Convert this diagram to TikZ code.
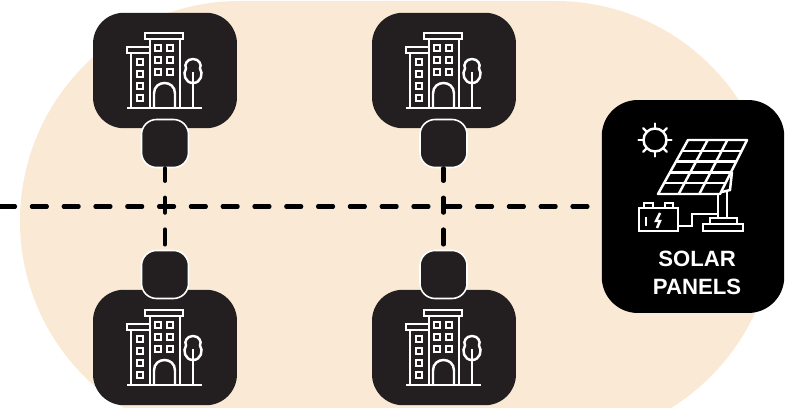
\documentclass[tikz,border=0pt]{standalone}
\usepackage{fontspec}
\setmainfont{Liberation Sans}
\definecolor{cream}{HTML}{FAE9D4}
\definecolor{boxdark}{HTML}{231F20}
\tikzset{
  house/.style={rectangle,fill=boxdark,rounded corners=0.62cm,minimum width=2.88cm,minimum height=2.31cm,inner sep=0pt},
  port/.style={rectangle,draw=white,line width=0.9pt,fill=boxdark,rounded corners=0.3cm,minimum width=0.94cm,minimum height=0.96cm,inner sep=0pt},
  panelbox/.style={rectangle,fill=black,rounded corners=0.72cm,minimum width=3.65cm,minimum height=4.26cm,inner sep=0pt},
  feeder/.style={line width=2.3pt,line cap=round,dash pattern=on 8.6pt off 9.5pt},
  icon/.style={draw=white,line width=1.4pt},
  building/.pic={
    \draw[icon] (-38,37.5) -- (37,37.5);
    \draw[icon] (-20,-37.5) rectangle (18,-31.5);
    \draw[icon] (-15,37.5) -- (-15,-31.5) (15,-31.5) -- (15,37.5);
    \draw[icon] (-38,-23.5) rectangle (-15,-17.5);
    \draw[icon] (-34,-17.5) -- (-34,37.5);
    \foreach \wy in {-8.5,3.5,15.5,27.5}
      \draw[icon] (-28,\wy-3) rectangle (-22,\wy+3);
    \foreach \wx in {-7,5}
      \foreach \wy in {-22.5,-10.5,1.5}
        \draw[icon] (\wx-3,\wy-3) rectangle (\wx+3,\wy+3);
    \draw[icon] (-11,37.5) -- (-11,23) .. controls (-11,9) and (10,9) .. (10,23) -- (10,37.5);
    \draw[icon] (28,-11.5) .. controls (34,-11.5) and (37,-6) .. (35,-2) .. controls (38.5,3) and (36,12.5) .. (28,12.5) .. controls (20,12.5) and (17.5,3) .. (21,-2) .. controls (19,-6) and (22,-11.5) .. (28,-11.5);
    \draw[icon] (28,2) -- (28,37.5);
  }
}

\begin{document}
\begin{tikzpicture}[x={(0.02cm,0cm)}, y={(0cm,-0.02cm)}]
  \useasboundingbox (0,0) rectangle (785,408);
  % Backdrop
  \begin{scope}
    \clip (0,0) rectangle (785,408);
    \fill[cream,rounded corners=4.4cm] (20,1) rectangle (775,441);
  \end{scope}

  % Nodes
  \node[house] (HouseA) at (165,70.5) {};
  \node[house] (HouseB) at (444,70.5) {};
  \node[house] (HouseC) at (165,347.5) {};
  \node[house] (HouseD) at (444,347.5) {};
  \node[port] (PortA) at (165,143.5) {};
  \node[port] (PortB) at (443.5,143.5) {};
  \node[port] (PortC) at (165,274.5) {};
  \node[port] (PortD) at (443.5,274.5) {};
  \node[panelbox] (Solar) at (693,206.5) {};
  \node[text=white,font=\fontsize{12.6}{15.9}\selectfont\bfseries,align=center,inner sep=0pt] (SolarLabel) at (697,272.5) {SOLAR\\PANELS};
  \coordinate (Feed) at (0,206.5);

  % Edges
  \draw[feeder,shorten >=4pt] (Feed) -- (Solar.west);
  \draw[feeder,dash phase=1.4pt] (PortA.south) -- (PortC.north);
  \draw[feeder,dash phase=1.4pt] (PortB.south) -- (PortD.north);

  % Icons
  \foreach \n in {HouseA,HouseB,HouseC,HouseD}
    \pic at (\n) {building};

  % Sun
  \draw[icon] (655,140) circle [radius=11.5];
  \foreach \a in {0,45,...,315}
    \draw[icon,line cap=round] ({655+11.5*cos(\a)},{140+11.5*sin(\a)}) -- ({655+16.5*cos(\a)},{140+16.5*sin(\a)});

  % Panel
  \draw[icon,line join=round] (688,140) -- (747,140) -- (720,194) -- (658,194) -- cycle;
  \foreach \t in {1,...,4}
    \draw[icon] ({688-30*\t/5},{140+54*\t/5}) -- ({747-27*\t/5},{140+54*\t/5});
  \foreach \t in {1,2}
    \draw[icon] ({688+59*\t/3},140) -- ({658+62*\t/3},194);
  \draw[icon] (732,172) -- (730,190) -- (722,192);
  \draw[icon] (718,194) -- (718,218) (727,192) -- (727,218);
  \draw[icon] (710,224) -- (710,218) -- (737,218) -- (737,224);
  \draw[icon] (703,224) rectangle (743,231);

  % Battery
  \draw[icon] (639,208) rectangle (678,231);
  \draw[icon] (644,208) -- (644,203) -- (653,203) -- (653,208);
  \draw[icon] (665,208) -- (665,203) -- (673,203) -- (673,208);
  \draw[icon] (646,217) -- (646,226);
  \draw[icon] (660,213) -- (656,221) -- (660,221) -- (657,228);
  \draw[icon] (678,226) -- (692,226) -- (692,214) -- (718,214);
\end{tikzpicture}
\end{document}
